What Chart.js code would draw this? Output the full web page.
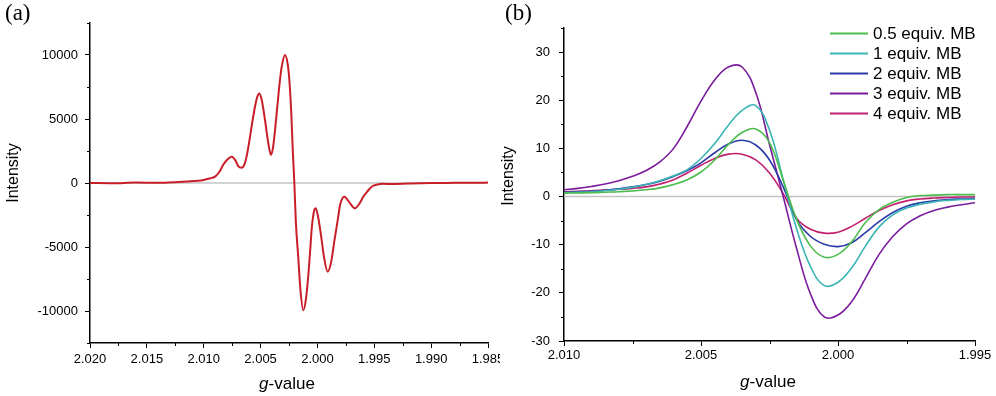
<!DOCTYPE html>
<html>
<head>
<meta charset="utf-8">
<script src="https://cdn.jsdelivr.net/npm/chart.js@4"></script>
<style>
body { margin: 0; background: #fff; width: 996px; height: 396px; overflow: hidden; position: relative; font-family: "Liberation Sans", Arial, sans-serif; }
.panel { position: absolute; top: 0; height: 396px; }
#pa { left: 0; width: 500px; }
#pb { left: 500px; width: 496px; }
.tag { position: absolute; top: 1px; font-family: "Liberation Serif", "Times New Roman", serif; font-size: 23px; line-height: 1; }
.xt { position: absolute; font-size: 17px; line-height: 17px; white-space: nowrap; transform: translateX(-50%); }
.yt { position: absolute; font-size: 16px; line-height: 16px; white-space: nowrap; transform: translate(-50%, -50%) rotate(-90deg); }
</style>
</head>
<body>
<div class="panel" id="pa"><canvas id="chartA" width="500" height="396"></canvas></div>
<div class="panel" id="pb"><canvas id="chartB" width="496" height="396"></canvas></div>
<div class="tag" style="left:5px">(a)</div>
<div class="tag" style="left:505px">(b)</div>
<div class="yt" style="left:13px;top:173px">Intensity</div>
<div class="yt" style="left:508px;top:176px">Intensity</div>
<div class="xt" style="left:287px;top:375px"><i>g</i>-value</div>
<div class="xt" style="left:768px;top:373px"><i>g</i>-value</div>
<script>
// (a) full spectrum
const gA = [2.0200, 2.0180, 2.0160, 2.0140, 2.0125, 2.0115, 2.0105, 2.0100, 2.0095, 2.0090,
  2.0086, 2.0083, 2.0079, 2.00754, 2.0072, 2.00695, 2.00666, 2.0064, 2.0062, 2.00593,
  2.0057, 2.00549, 2.0053, 2.00511, 2.0049, 2.00461, 2.0043, 2.00408, 2.0039, 2.00372,
  2.00353, 2.0033, 2.00314, 2.00285, 2.0026, 2.00247, 2.0023, 2.00217, 2.00203, 2.0019,
  2.00168, 2.0015, 2.00124, 2.0010, 2.0008, 2.0006, 2.0005, 2.0003, 2.00015, 1.99995,
  1.99969, 1.9994, 1.9991, 1.9988, 1.99852, 1.9982, 1.99801, 1.99764, 1.99713, 1.9967,
  1.9963, 1.99597, 1.9956, 1.99523, 1.9948, 1.99421, 1.9935, 1.9920, 1.9900, 1.9880,
  1.9860, 1.9850];
const intensityA = [0, -20, 30, 10, 60, 120, 180, 240, 350, 500,
  900, 1400, 1850, 2055, 1750, 1300, 1200, 1500, 2200, 3600,
  4900, 5960, 6700, 7000, 6500, 4920, 3000, 2190, 2800, 4200,
  5960, 8000, 9090, 10000, 9200, 8050, 5500, 2580, 0, -3000,
  -5880, -8300, -9950, -9000, -7190, -4800, -3540, -2200, -1980, -2600,
  -4060, -5900, -6930, -6200, -4580, -2800, -1720, -1070, -1590, -1980,
  -1600, -1070, -650, -290, -130, -60, -80, -40, 0, 10,
  20, 30];
const xTicksA = [2.020, 2.015, 2.010, 2.005, 2.000, 1.995, 1.990, 1.985];
const xMinorA = [2.0175, 2.0125, 2.0075, 2.0025, 1.9975, 1.9925, 1.9875];
const yTicksA = [-10000, -5000, 0, 5000, 10000];
const yMinorA = [-12500, -7500, -2500, 2500, 7500, 12500];

// (b) different MB amounts
const gB = [2.0100, 2.0095, 2.0090, 2.0085, 2.0080, 2.0075, 2.0070, 2.0065, 2.0060, 2.0055,
  2.0050, 2.0045, 2.0040, 2.0035, 2.0030, 2.0025, 2.0020, 2.0015, 2.0010, 2.0005,
  2.0000, 1.9995, 1.9990, 1.9985, 1.9980, 1.9975, 1.9970, 1.9965, 1.9960, 1.9955, 1.9950];
const labelsB = ['0.5 equiv. MB', '1 equiv. MB', '2 equiv. MB', '3 equiv. MB', '4 equiv. MB'];
const mb05 = [0.7, 0.75, 0.8, 0.9, 1.0, 1.15, 1.4, 1.8, 2.5, 3.5,
  5.1, 7.6, 10.8, 13.3, 14.0, 11.2, 3.4, -4.9, -10.3, -12.6,
  -12.0, -9.4, -5.4, -2.7, -1.2, -0.2, 0.2, 0.3, 0.4, 0.4, 0.4];
const mb1 = [0.8, 0.9, 1.0, 1.2, 1.5, 1.9, 2.5, 3.3, 4.3, 5.6,
  7.9, 11.0, 14.8, 17.9, 18.9, 13.8, 3.5, -6.9, -14.6, -18.5,
  -17.8, -14.8, -10.3, -6.3, -3.8, -2.4, -1.6, -1.1, -0.8, -0.6, -0.5];
const mb2 = [0.9, 1.0, 1.1, 1.3, 1.6, 2.0, 2.5, 3.2, 4.2, 5.4,
  7.0, 9.1, 10.9, 11.7, 10.7, 7.6, 2.0, -4.9, -8.3, -9.9,
  -10.4, -9.6, -7.5, -5.2, -3.3, -2.0, -1.3, -0.9, -0.6, -0.5, -0.4];
const mb3 = [1.4, 1.7, 2.1, 2.6, 3.3, 4.2, 5.4, 7.2, 10.0, 14.6,
  19.8, 24.2, 26.9, 26.9, 21.6, 10.8, 0.0, -11.0, -20.3, -25.0,
  -24.6, -21.8, -17.0, -12.0, -8.3, -5.7, -4.0, -2.9, -2.2, -1.7, -1.3];
const mb4 = [1.0, 1.1, 1.2, 1.35, 1.5, 1.7, 2.0, 2.6, 3.5, 4.9,
  6.5, 7.9, 8.8, 8.8, 7.6, 4.9, 0.6, -4.6, -6.8, -7.6,
  -7.4, -6.2, -4.5, -2.9, -1.7, -0.9, -0.5, -0.3, -0.2, -0.1, -0.1];
const colorsB = ['#4cbc4c', '#3cb4b4', '#2a3aa8', '#7a1c9c', '#c0206e'];
const xTicksB = [2.010, 2.005, 2.000, 1.995];
const xMinorB = [2.0075, 2.0025, 1.9975];
const yTicksB = [-30, -20, -10, 0, 10, 20, 30];
const yMinorB = [-25, -15, -5, 5, 15, 25, 35];

Chart.defaults.font.family = '"Liberation Sans", Arial, sans-serif';
Chart.defaults.color = '#000';

// grey line at zero intensity
const zeroLine = {
  id: 'zeroLine',
  beforeDatasetsDraw(chart, args, opts) {
    const ctx = chart.ctx, a = chart.chartArea;
    const y = chart.scales.y.getPixelForValue(0);
    ctx.save();
    ctx.strokeStyle = opts.color;
    ctx.lineWidth = opts.width;
    ctx.beginPath();
    ctx.moveTo(a.left, y);
    ctx.lineTo(a.right, y);
    ctx.stroke();
    ctx.restore();
  }
};

// short unlabeled ticks between the labeled ones
const minorTicks = {
  id: 'minorTicks',
  afterDraw(chart, args, opts) {
    const ctx = chart.ctx, xs = chart.scales.x, ys = chart.scales.y;
    ctx.save();
    ctx.strokeStyle = '#000';
    ctx.lineWidth = 1;
    opts.x.forEach(v => {
      const p = Math.round(xs.getPixelForValue(v)) + 0.5;
      ctx.beginPath(); ctx.moveTo(p, xs.top); ctx.lineTo(p, xs.top + 3); ctx.stroke();
    });
    opts.y.forEach(v => {
      const p = Math.round(ys.getPixelForValue(v)) + 0.5;
      ctx.beginPath(); ctx.moveTo(ys.right, p); ctx.lineTo(ys.right - 3, p); ctx.stroke();
    });
    ctx.restore();
  }
};

// legend drawn inside the plot, top right
const insideLegend = {
  id: 'insideLegend',
  afterDraw(chart) {
    const ctx = chart.ctx;
    ctx.save();
    ctx.font = '17px "Liberation Sans", Arial, sans-serif';
    ctx.textBaseline = 'middle';
    ctx.fillStyle = '#000';
    chart.data.datasets.forEach((ds, i) => {
      const y = 33.5 + i * 20;
      ctx.strokeStyle = ds.borderColor;
      ctx.lineWidth = 2;
      ctx.beginPath(); ctx.moveTo(330, y); ctx.lineTo(368, y); ctx.stroke();
      ctx.fillText(ds.label, 373, y + 1);
    });
    ctx.restore();
  }
};

function scales(xMin, xMax, xTicks, yMin, yMax, yTicks, yWidth, xHeight, fontSize, xPad, yPad) {
  return {
    x: {
      type: 'linear', reverse: true, min: xMin, max: xMax,
      afterBuildTicks: s => { s.ticks = xTicks.map(v => ({ value: v })); },
      afterFit: s => { s.height = xHeight; s.paddingLeft = 0; s.paddingRight = 0; },
      ticks: { font: { size: fontSize }, padding: xPad, maxRotation: 0, autoSkip: false, callback: v => v.toFixed(3) },
      grid: { drawOnChartArea: false, color: '#000', tickLength: 5, lineWidth: 1 },
      border: { color: '#000', width: 1.5 }
    },
    y: {
      type: 'linear', min: yMin, max: yMax,
      afterBuildTicks: s => { s.ticks = yTicks.map(v => ({ value: v })); },
      afterFit: s => { s.width = yWidth; s.paddingTop = 0; s.paddingBottom = 0; },
      ticks: { font: { size: fontSize }, padding: yPad, autoSkip: false, callback: v => String(v) },
      grid: { drawOnChartArea: false, color: '#000', tickLength: 5, lineWidth: 1 },
      border: { color: '#000', width: 1.5 }
    }
  };
}

new Chart(document.getElementById('chartA'), {
  type: 'line',
  data: {
    datasets: [{
      data: gA.map((g, i) => ({ x: g, y: intensityA[i] })),
      borderColor: '#c81e28',
      borderWidth: 2,
      pointRadius: 0,
      cubicInterpolationMode: 'monotone'
    }]
  },
  options: {
    responsive: false, animation: false, devicePixelRatio: 1,
    layout: { padding: { top: 23, right: 12, left: 0, bottom: 0 } },
    plugins: {
      legend: { display: false }, tooltip: { enabled: false },
      zeroLine: { color: '#a8a8a8', width: 1 },
      minorTicks: { x: xMinorA, y: yMinorA }
    },
    scales: scales(1.985, 2.020, xTicksA, -12500, 12500, yTicksA, 90, 53, 13, 4, 7)
  },
  plugins: [zeroLine, minorTicks]
});

const seriesB = [mb05, mb1, mb2, mb3, mb4];
new Chart(document.getElementById('chartB'), {
  type: 'line',
  data: {
    datasets: seriesB.map((vals, k) => ({
      label: labelsB[k],
      data: gB.map((g, i) => ({ x: g, y: vals[i] })),
      borderColor: colorsB[k],
      borderWidth: 1.6,
      pointRadius: 0,
      tension: 0.4
    }))
  },
  options: {
    responsive: false, animation: false, devicePixelRatio: 1,
    layout: { padding: { top: 28, right: 21, left: 0, bottom: 0 } },
    plugins: {
      legend: { display: false }, tooltip: { enabled: false },
      zeroLine: { color: '#c4c4c4', width: 1.5 },
      minorTicks: { x: xMinorB, y: yMinorB }
    },
    scales: scales(1.995, 2.010, xTicksB, -30, 35, yTicksB, 64, 55, 13, 2, 9)
  },
  plugins: [zeroLine, minorTicks, insideLegend]
});
</script>
</body>
</html>
